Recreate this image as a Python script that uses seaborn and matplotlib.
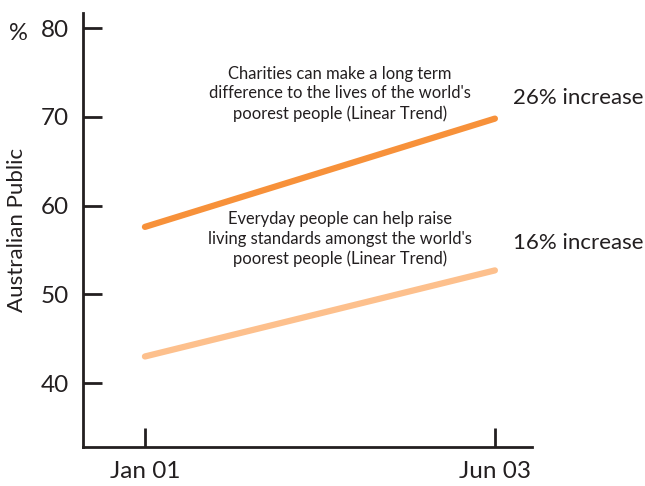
import matplotlib
matplotlib.use("Agg")
import matplotlib.pyplot as plt
import seaborn as sns
import pandas as pd

periods = ["Jan 01", "Jun 03"]
charities = [57.6, 69.8]
everyday = [43.0, 52.7]
series_names = [
    "Charities can make a long term\ndifference to the lives of the world's\npoorest people (Linear Trend)",
    "Everyday people can help raise\nliving standards amongst the world's\npoorest people (Linear Trend)",
]
increase_labels = ["26% increase", "16% increase"]
y_ticks = [40, 50, 60, 70, 80]

sns.set_theme(style="ticks")
plt.rcParams["font.family"] = ["Lato", "DejaVu Sans"]
text_color = "#231F20"

df = pd.DataFrame({
    "pos": [0, 1, 0, 1],
    "value": charities + everyday,
    "series": [series_names[0]] * 2 + [series_names[1]] * 2,
})

fig = plt.figure(figsize=(6.45, 4.86), dpi=100)
ax = fig.add_axes([83 / 645, 1 - 447 / 486, (532 - 83) / 645, (447 - 13) / 486])
sns.lineplot(data=df, x="pos", y="value", hue="series",
             palette=["#F7913A", "#FDC08D"], linewidth=4.5, ax=ax,
             legend=False, solid_capstyle="round")

ax.set_xlim(-0.177, 1.106)
ax.set_ylim(32.8, 81.7)
ax.set_xticks([0, 1])
ax.set_xticklabels(periods)
ax.set_yticks(y_ticks)
ax.tick_params(direction="in", length=13.5, width=2, colors=text_color,
               labelsize=17.5, pad=10)
ax.tick_params(axis="x", pad=10)
for s in ["top", "right"]:
    ax.spines[s].set_visible(False)
for s in ["left", "bottom"]:
    ax.spines[s].set_linewidth(2)
    ax.spines[s].set_color(text_color)
ax.set_xlabel("")
ax.set_ylabel("Australian Public", fontsize=16, color=text_color, labelpad=10)

ax.text(0.557, 72.6, series_names[0], ha="center", va="center",
        fontsize=11.9, color=text_color, linespacing=1.28)
ax.text(0.557, 56.2, series_names[1], ha="center", va="center",
        fontsize=11.9, color=text_color, linespacing=1.28)
ax.text(1.051, 72.1, increase_labels[0], ha="left", va="center",
        fontsize=16, color=text_color)
ax.text(1.051, 55.75, increase_labels[1], ha="left", va="center",
        fontsize=16, color=text_color)
fig.text(18 / 645, 1 - 33 / 486, "%", ha="center", va="center",
         fontsize=17, color=text_color)

fig.savefig("out.png", dpi=100)
